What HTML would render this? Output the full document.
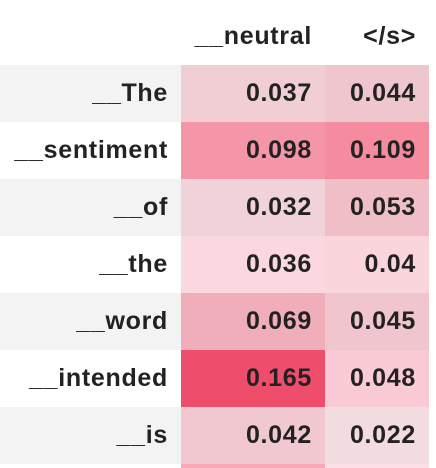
<!DOCTYPE html>
<html><head><meta charset="utf-8"><style>
html,body{margin:0;padding:0;background:#fff;width:436px;height:468px;overflow:hidden;font-family:"Liberation Sans",Arial,sans-serif;}
#t{position:relative;width:436px;height:468px;overflow:hidden;}
.c{position:absolute;box-sizing:border-box;font-weight:bold;font-size:25px;letter-spacing:0.7px;color:#222;text-align:right;line-height:57px;height:57px;white-space:nowrap;overflow:hidden;}
</style></head><body>
<div id="t"></div>
<script>
const tokens=["__The","__sentiment","__of","__the","__word","__intended","__is","__"];
const columns=["__neutral","</s>"];
const neutralValues=[0.037,0.098,0.032,0.036,0.069,0.165,0.042,0.08];
const sValues=[0.044,0.109,0.053,0.04,0.045,0.048,0.022,0.03];
const series=[neutralValues,sValues];
const t=document.getElementById('t');
const colX=[181,325],colW=[144,104],rowY0=65,rowH=57;
function mk(x,y,w,h){const d=document.createElement('div');d.className='c';d.style.left=x+'px';d.style.top=y+'px';d.style.width=w+'px';d.style.height=Math.min(h,468-y)+'px';t.appendChild(d);return d;}
columns.forEach((c,j)=>{const d=mk(colX[j]-40,8,colW[j]+40-13,50);d.textContent=c;

});
tokens.forEach((tok,i)=>{
 const y=rowY0+i*rowH;const odd=i%2===0;
 const bg=mk(0,y,429,rowH);bg.style.background=odd?'#f3f3f3':'#fff';
 
 
 const l=mk(0,y,168,rowH);l.textContent=i<7?tok:'';
 
 
 series.forEach((vals,j)=>{
  const v=vals[i];const a=Math.min(1,v*4.55);
  const d=mk(colX[j],y,colW[j],rowH);
  d.style.background='rgba(232,20,60,'+a.toFixed(3)+')';
  d.style.paddingRight='13px';
  d.textContent=i<7?String(v):'';
  
  
 });
});
</script>
</body></html>
